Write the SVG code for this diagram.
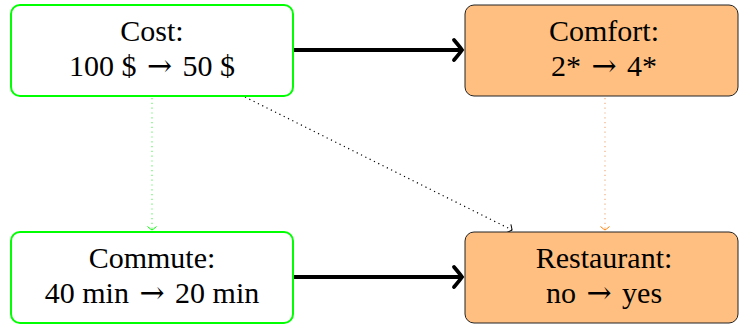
<svg xmlns="http://www.w3.org/2000/svg" width="739" height="327" viewBox="0 0 739 327">
<style>
.t{font-family:"Liberation Serif","DejaVu Serif",serif;font-size:30px;fill:#000;text-anchor:middle}
.a{font-family:"DejaVu Serif",serif;font-size:30px}
.g{fill:#fff;stroke:#00ff00;stroke-width:2}
.o{fill:#ffbf80;stroke:#222;stroke-width:1}
.thick{stroke:#000;stroke-width:3.8;fill:none}
.dot{stroke-width:1.2;fill:none;stroke-dasharray:1.2 3.6}
</style>
<defs>
<marker id="big" markerUnits="userSpaceOnUse" viewBox="-12 -10 14 20" refX="1" refY="0" markerWidth="14" markerHeight="20" orient="auto" overflow="visible">
<path d="M-7,-10 Q-1,-3 1,0 Q-1,3 -7,10" fill="none" stroke="#000" stroke-width="3.8" stroke-linecap="round"/>
</marker>
<marker id="smg" markerUnits="userSpaceOnUse" viewBox="-6 -5 8 10" refX="0" refY="0" markerWidth="8" markerHeight="10" orient="auto" overflow="visible">
<path d="M-3.5,-4.5 Q-0.5,-1 0,0 Q-0.5,1 -3.5,4.5" fill="none" stroke="#00ff00" stroke-width="1"/>
</marker>
<marker id="smo" markerUnits="userSpaceOnUse" viewBox="-6 -5 8 10" refX="0" refY="0" markerWidth="8" markerHeight="10" orient="auto" overflow="visible">
<path d="M-3.5,-4.5 Q-0.5,-1 0,0 Q-0.5,1 -3.5,4.5" fill="none" stroke="#ff8000" stroke-width="1"/>
</marker>
<marker id="smk" markerUnits="userSpaceOnUse" viewBox="-6 -5 8 10" refX="0" refY="0" markerWidth="8" markerHeight="10" orient="auto" overflow="visible">
<path d="M-3.5,-4.5 Q-0.5,-1 0,0 Q-0.5,1 -3.5,4.5" fill="none" stroke="#000" stroke-width="1"/>
</marker>
</defs>
<g id="connectors">
<line class="thick" x1="294" y1="50" x2="462" y2="50" marker-end="url(#big)"/>
<line class="thick" x1="294" y1="277" x2="462" y2="277" marker-end="url(#big)"/>
<line class="dot" stroke="#66ee66" x1="152" y1="98" x2="152" y2="230" marker-end="url(#smg)"/>
<line class="dot" stroke="#f0b080" x1="605" y1="98" x2="605" y2="230" marker-end="url(#smo)"/>
<line class="dot" stroke="#000" x1="245" y1="97" x2="512" y2="230" marker-end="url(#smk)"/>
</g>
<g id="cost">
<rect class="g" x="11" y="5" width="282" height="91" rx="9"/>
<text class="t" x="152" y="41">Cost:</text>
<text class="t" x="152" y="76">100 $ <tspan class="a" dx="3">→</tspan> <tspan dx="3">50 $</tspan></text>
</g>
<g id="comfort">
<rect class="o" x="465" y="5" width="273" height="91" rx="9"/>
<text class="t" x="604" y="41">Comfort:</text>
<text class="t" x="604" y="76">2* <tspan class="a" dx="3">→</tspan> <tspan dx="3">4*</tspan></text>
</g>
<g id="commute">
<rect class="g" x="11" y="232" width="282" height="91" rx="9"/>
<text class="t" x="152" y="268">Commute:</text>
<text class="t" x="152" y="303">40 min <tspan class="a" dx="3">→</tspan> <tspan dx="3">20 min</tspan></text>
</g>
<g id="restaurant">
<rect class="o" x="465" y="232" width="273" height="91" rx="9"/>
<text class="t" x="604" y="268">Restaurant:</text>
<text class="t" x="604" y="303">no <tspan class="a" dx="3">→</tspan> <tspan dx="3">yes</tspan></text>
</g>
</svg>
